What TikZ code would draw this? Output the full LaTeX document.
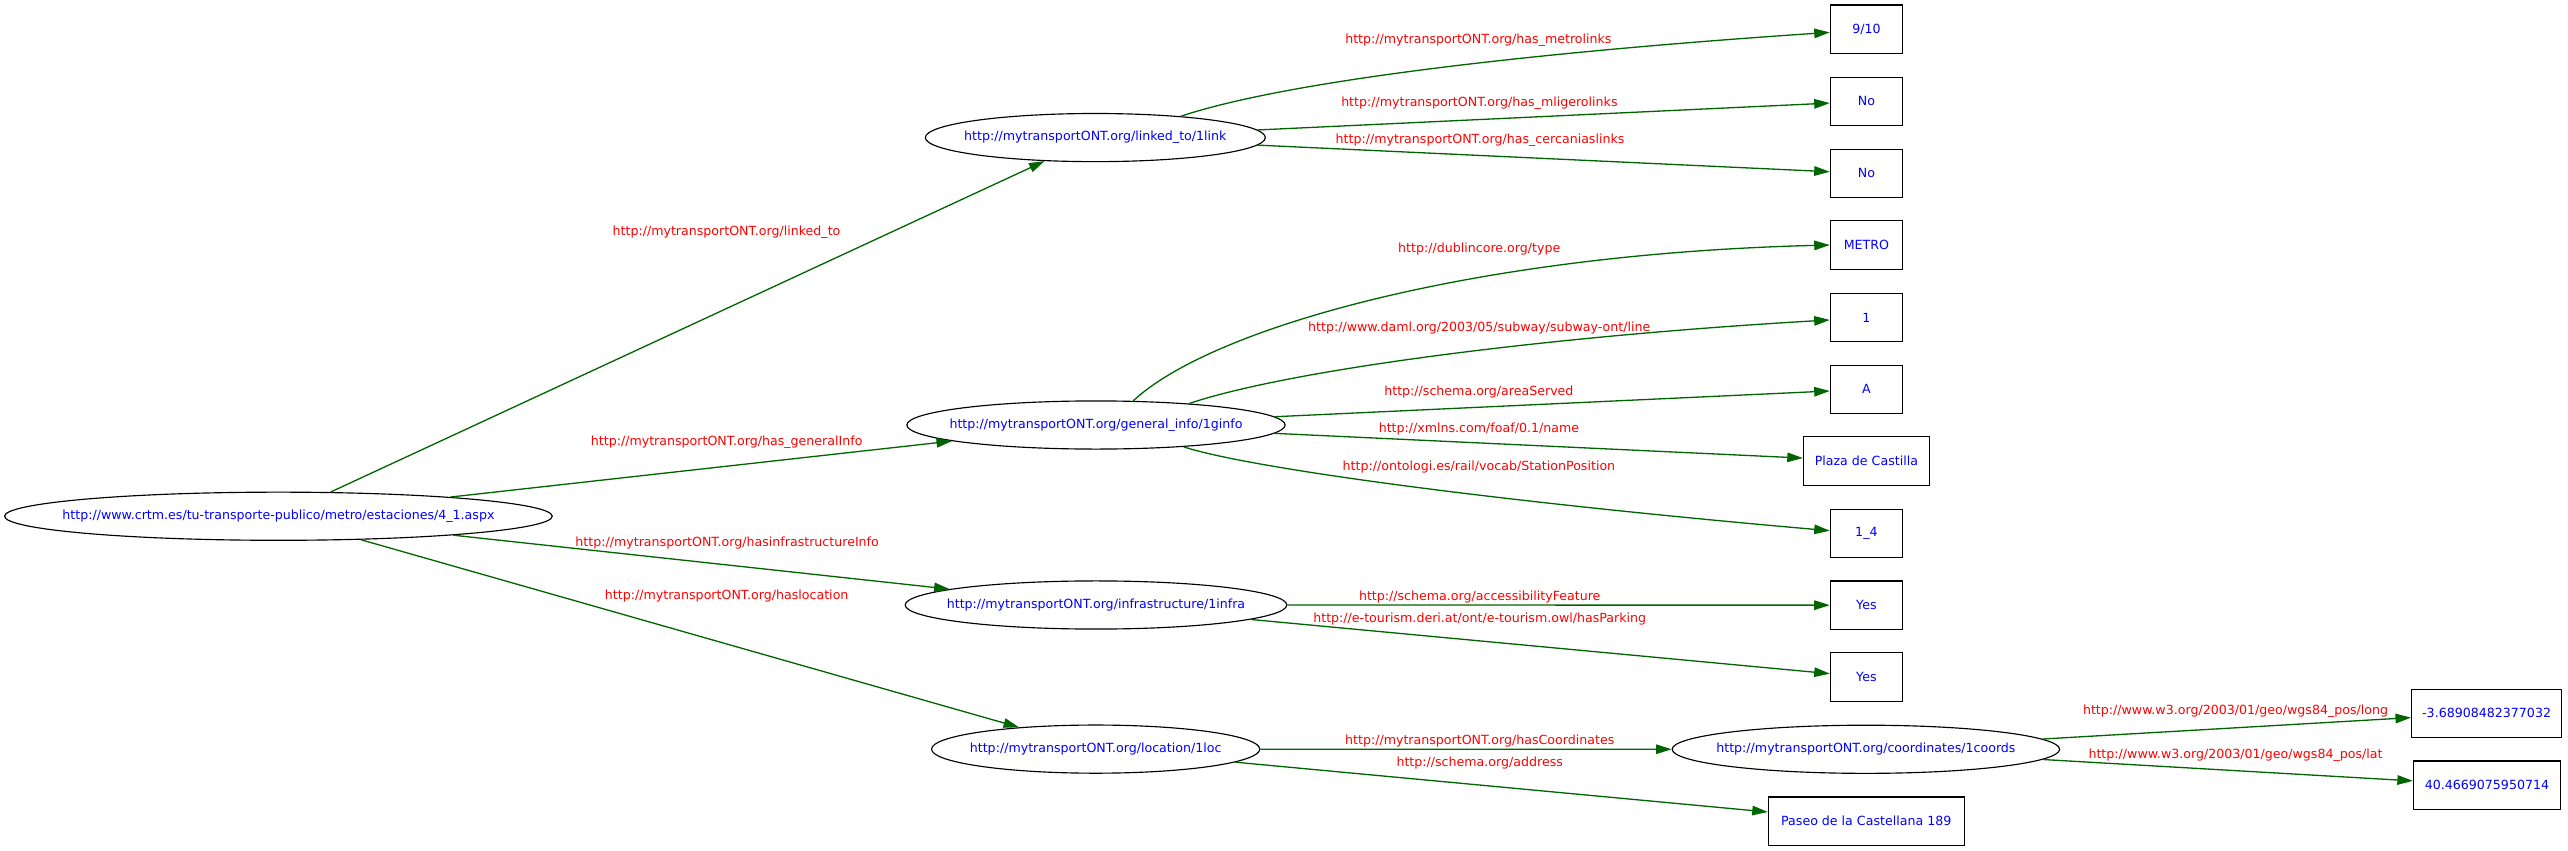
\documentclass[tikz,border=0pt]{standalone}
\usepackage{fontspec}
\setmainfont{DejaVu Sans}[Ligatures=CommonOff]
\usetikzlibrary{arrows.meta,shapes.geometric}
\definecolor{edgegreen}{RGB}{0,100,0}
\definecolor{lblred}{RGB}{255,0,0}
\definecolor{txtblue}{RGB}{0,0,255}
\begin{document}
\begin{tikzpicture}[x=1pt,y=-1pt,
  font=\fontsize{7.7}{9}\selectfont,
  ent/.style={ellipse, draw=black, line width=0.7pt, inner sep=0pt, minimum height=29.4pt, text=txtblue},
  lit/.style={rectangle, draw=black, line width=0.7pt, inner sep=0pt, minimum height=29.5pt, minimum width=44pt, text=txtblue},
  prop/.style={text=lblred, inner sep=0pt},
  rel/.style={draw=edgegreen, line width=0.8pt, -{Triangle[length=9.5pt,width=5.8pt]}}]
\useasboundingbox (0,0) rectangle (1568,519.6);
\fill[white] (0,0) rectangle (1568,519.6);

% resource nodes
\node[ent, minimum width=334.4pt] (root) at (170,315.2) {\makebox[0pt]{http://www.crtm.es/tu-transporte-publico/metro/estaciones/4\_1.aspx}};
\node[ent, minimum width=207.6pt] (linked) at (668.8,84) {\makebox[0pt]{http://mytransportONT.org/linked\_to/1link}};
\node[ent, minimum width=231pt] (ginfo) at (669.2,259.5) {\makebox[0pt]{http://mytransportONT.org/general\_info/1ginfo}};
\node[ent, minimum width=233pt] (infra) at (669.2,369.4) {\makebox[0pt]{http://mytransportONT.org/infrastructure/1infra}};
\node[ent, minimum width=200.4pt] (loc) at (669,457.4) {\makebox[0pt]{http://mytransportONT.org/location/1loc}};
\node[ent, minimum width=236.6pt] (coords) at (1139.3,457.5) {\makebox[0pt]{http://mytransportONT.org/coordinates/1coords}};

% literal nodes
\node[lit] (metrol) at (1139.6,17.8) {9/10};
\node[lit] (mlig) at (1139.6,61.9) {No};
\node[lit] (cerc) at (1139.6,105.9) {No};
\node[lit] (metro) at (1139.6,149.6) {METRO};
\node[lit] (line) at (1139.6,193.8) {1};
\node[lit] (area) at (1139.6,237.7) {A};
\node[lit, minimum width=76.9pt] (plaza) at (1139.6,281.5) {Plaza de Castilla};
\node[lit] (pos) at (1139.6,325.6) {1\_4};
\node[lit] (acc) at (1139.6,369.5) {Yes};
\node[lit] (park) at (1139.6,413.4) {Yes};
\node[lit, minimum width=119.5pt] (paseo) at (1139.5,501.4) {Paseo de la Castellana 189};
\node[lit, minimum width=91.6pt] (long) at (1518.3,435.5) {-3.68908482377032};
\node[lit, minimum width=89.7pt] (lat) at (1518.5,479.4) {40.4669075950714};

% connectors
\draw[rel] (root) -- (linked);
\draw[rel] (root) -- (ginfo);
\draw[rel] (root) -- (infra);
\draw[rel] (root) -- (loc);
\draw[rel] (linked.14) .. controls (790,48) and (950,31) .. (metrol.185);
\draw[rel] (linked) -- (mlig);
\draw[rel] (linked) -- (cerc);
\draw[rel] (ginfo.33) .. controls (740,200) and (900,155) .. (metro.west);
\draw[rel] (ginfo.13) .. controls (790,225) and (950,205) .. (line.184);
\draw[rel] (ginfo) -- (area);
\draw[rel] (ginfo) -- (plaza);
\draw[rel] (ginfo.-14) .. controls (760,285) and (900,305) .. (pos.176);
\draw[rel] (infra) -- (acc);
\draw[rel] (infra) -- (park);
\draw[rel] (loc) -- (coords);
\draw[rel] (loc) -- (paseo);
\draw[rel] (coords) -- (long);
\draw[rel] (coords) -- (lat);

% property labels
\node[prop] (p1) at (443.6,141.5) {http://mytransportONT.org/linked\_to};
\node[prop] (p2) at (443.7,270.1) {http://mytransportONT.org/has\_generalInfo};
\node[prop] (p3) at (444,331.3) {http://mytransportONT.org/hasinfrastructureInfo};
\node[prop] (p4) at (443.7,363.7) {http://mytransportONT.org/haslocation};
\node[prop] (p5) at (902.7,24.8) {http://mytransportONT.org/has\_metrolinks};
\node[prop] (p6) at (903.3,63.3) {http://mytransportONT.org/has\_mligerolinks};
\node[prop] (p7) at (903.7,85.7) {http://mytransportONT.org/has\_cercaniaslinks};
\node[prop] (p8) at (903.2,151.8) {http://dublincore.org/type};
\node[prop] (p9) at (903.2,200.5) {http://www.daml.org/2003/05/subway/subway-ont/line};
\node[prop] (p10) at (903,239.2) {http://schema.org/areaServed};
\node[prop] (p11) at (903,261.7) {http://xmlns.com/foaf/0.1/name};
\node[prop] (p12) at (903,285) {http://ontologi.es/rail/vocab/StationPosition};
\node[prop] (p13) at (903.5,364.3) {http://schema.org/accessibilityFeature};
\node[prop] (p14) at (903.5,378) {http://e-tourism.deri.at/ont/e-tourism.owl/hasParking};
\node[prop] (p15) at (903.5,452.2) {http://mytransportONT.org/hasCoordinates};
\node[prop] (p16) at (903.5,465.7) {http://schema.org/address};
\node[prop] (p17) at (1365,434.5) {http://www.w3.org/2003/01/geo/wgs84\_pos/long};
\node[prop] (p18) at (1365,461.4) {http://www.w3.org/2003/01/geo/wgs84\_pos/lat};
\end{tikzpicture}
\end{document}
